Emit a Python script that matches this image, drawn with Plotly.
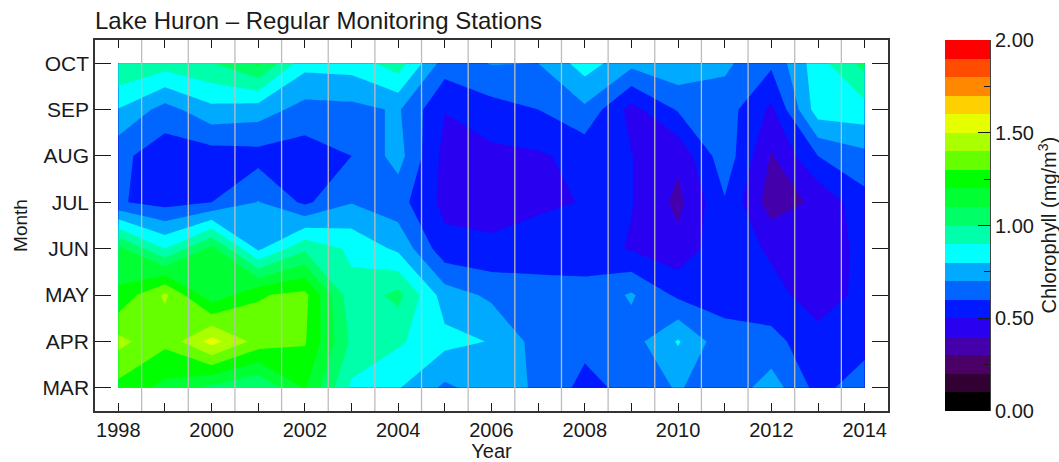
import plotly.graph_objects as go

years = list(range(1998, 2015))
months = ["MAR", "APR", "MAY", "JUN", "JUL", "AUG", "SEP", "OCT"]
grid_years = [y + 0.5 for y in range(1998, 2014)]
x_major = [y for y in years if (y - 1998) % 2 == 0]
x_minor = [y for y in years if (y - 1998) % 2 == 1]

chl_mar = [1.27, 1.17, 1.07, 1.00, 1.21, 0.88, 0.807, 0.68, 0.75, 0.686, 0.566, 0.634, 0.71, 0.63, 0.75, 0.565, 0.66]
chl_apr = [1.43, 1.325, 1.54, 1.36, 1.31, 0.98, 0.915, 0.83, 0.795, 0.66, 0.63, 0.657, 0.81, 0.63, 0.63, 0.54, 0.56]
chl_may = [1.22, 1.42, 1.13, 1.29, 1.33, 0.93, 1.03, 0.75, 0.68, 0.64, 0.63, 0.712, 0.58, 0.57, 0.54, 0.445, 0.53]
chl_jun = [1.13, 0.90, 1.13, 0.78, 0.98, 0.88, 0.78, 0.535, 0.52, 0.55, 0.555, 0.49, 0.43, 0.575, 0.48, 0.43, 0.533]
chl_jul = [0.61, 0.563, 0.60, 0.705, 0.58, 0.695, 0.64, 0.47, 0.46, 0.48, 0.505, 0.505, 0.374, 0.59, 0.35, 0.42, 0.565]
chl_aug = [0.627, 0.543, 0.55, 0.563, 0.55, 0.60, 0.74, 0.465, 0.475, 0.487, 0.53, 0.503, 0.42, 0.665, 0.39, 0.60, 0.67]
chl_sep = [0.795, 0.66, 0.772, 0.75, 0.662, 0.67, 0.712, 0.503, 0.56, 0.60, 0.68, 0.465, 0.61, 0.65, 0.48, 0.855, 0.863]
chl_oct = [1.00, 0.95, 0.995, 1.12, 0.835, 0.845, 0.955, 0.65, 0.705, 0.70, 0.848, 0.73, 0.78, 0.72, 0.62, 0.86, 1.035]
chlorophyll = [chl_mar, chl_apr, chl_may, chl_jun, chl_jul, chl_aug, chl_sep, chl_oct]

band_colors = ["#000000", "#330033", "#4a0066", "#4400aa", "#2a00f0", "#0019ff", "#0066ff", "#00aaff",
               "#00ffff", "#00ffaa", "#00ff66", "#00ff33", "#00ff00", "#66ff00", "#aaff00", "#e5ff00",
               "#ffd000", "#ff8800", "#ff4c00", "#ff0000"]
band_step = 0.1
band_centers = [round((i + 0.5) * band_step, 2) for i in range(len(band_colors))]
bar_ticks = [0, 0.5, 1.0, 1.5, 2.0]
bar_minor = [0.25, 0.75, 1.25, 1.75]

n = len(band_colors)
stepped = []
for i, c in enumerate(band_colors):
    stepped += [[i / n, c], [(i + 1) / n, c]]

FONT = "Liberation Sans"
INK = "#1a1a1a"
FRAME = "#333333"

fig = go.Figure()
fig.add_trace(go.Contour(
    x=years, y=months, z=chlorophyll,
    colorscale=stepped, zmin=0, zmax=2, autocontour=False,
    contours=dict(start=0, end=2, size=band_step, coloring="fill", showlines=False),
    line=dict(width=0, smoothing=0), showscale=False, xaxis="x", yaxis="y",
    hovertemplate="%{x} %{y}: %{z}<extra></extra>",
))
fig.add_trace(go.Heatmap(
    z=[[v] for v in band_centers], y=band_centers, x=[0],
    colorscale=stepped, zmin=0, zmax=2, showscale=False, xaxis="x2", yaxis="y2",
    hovertemplate="%{y}<extra></extra>",
))

for g in grid_years:
    fig.add_shape(type="line", xref="x", yref="paper", x0=g, x1=g, y0=0, y1=1,
                  line=dict(color="#bdbdbd", width=1.3), layer="above")

fig.add_annotation(text="Chlorophyll (mg/m<sup>3</sup>)", xref="paper", yref="paper",
                   x=(1047 - 95) / 895, y=0.5, xanchor="center", yanchor="middle", textangle=-90,
                   showarrow=False, font=dict(family=FONT, size=20, color=INK))

fig.update_layout(
    width=1059, height=462, autosize=False,
    margin=dict(l=95, r=69, t=40, b=51, autoexpand=False),
    paper_bgcolor="white", plot_bgcolor="white", showlegend=False,
    font=dict(family=FONT, size=20, color=INK),
    title=dict(text="Lake Huron \u2013 Regular Monitoring Stations", xref="container", yref="container",
               x=95 / 1059, xanchor="left", y=1 - 21 / 462, yanchor="middle",
               font=dict(family=FONT, size=24, color=INK), pad=dict(l=0, t=0, b=0)),
    xaxis=dict(domain=[0, 793 / 895], range=[1997.5, 2014.5], tickmode="array",
               tickvals=x_major, ticktext=[str(y) for y in x_major],
               ticks="inside", ticklen=8, tickwidth=1, tickcolor=INK,
               minor=dict(tickmode="array", tickvals=x_minor, ticks="inside", ticklen=8, tickwidth=1, tickcolor=INK),
               showline=True, linecolor=FRAME, linewidth=1.5, mirror="ticks", showgrid=False, zeroline=False,
               automargin=False,
               title=dict(text="Year", font=dict(size=20), standoff=0), tickangle=0),
    yaxis=dict(domain=[0, 1], type="category", categoryorder="array", categoryarray=months, range=[-0.5, 7.5],
               ticks="inside", ticklen=16, tickwidth=1, tickcolor=INK, tickfont=dict(size=21),
               showline=True, linecolor=FRAME, linewidth=1.5, mirror="ticks", showgrid=False, zeroline=False,
               automargin=False,
               title=dict(text="Month", font=dict(size=19), standoff=10)),
    xaxis2=dict(domain=[850 / 895, 1], anchor="y2", visible=False, range=[-0.5, 0.5]),
    yaxis2=dict(domain=[0, 1], anchor="x2", side="right", range=[0, 2], tickmode="array",
                tickvals=bar_ticks, ticktext=["%.2f" % v for v in bar_ticks],
                ticks="inside", ticklen=12, tickwidth=1, tickcolor=INK,
                minor=dict(tickmode="array", tickvals=bar_minor, ticks="inside", ticklen=6, tickwidth=1, tickcolor=INK),
                showline=True, linecolor="#444444", linewidth=1, showgrid=False, zeroline=False,
                automargin=False),
)

fig.write_html("out.html", config={"displayModeBar": False},
               post_script="document.body.style.margin='0';document.documentElement.style.overflow='hidden';")
